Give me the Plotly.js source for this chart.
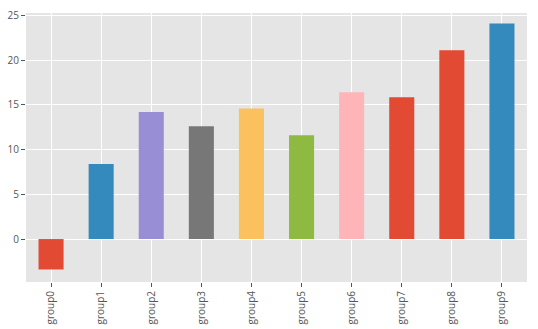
<!DOCTYPE html>
<html>
<head>
<meta charset="utf-8">
<script src="https://cdn.plot.ly/plotly-3.0.1.min.js"></script>
<style>html,body{margin:0;padding:0;background:#fff;}#chart{width:538px;height:329px;}</style>
</head>
<body>
<div id="chart"></div>
<script>
var categories = ["group0","group1","group2","group3","group4","group5","group6","group7","group8","group9"];
var values = [-3.4, 8.4, 14.2, 12.6, 14.6, 11.6, 16.4, 15.85, 21.1, 24.1];
var colors = ["#E24A33","#348ABD","#988ED5","#777777","#FBC15E","#8EBA42","#FFB5B8","#E24A33","#E24A33","#348ABD"];
var yTicks = [0, 5, 10, 15, 20, 25];

var trace = {
  type: "bar",
  x: categories,
  y: values,
  width: 0.5,
  marker: {color: colors, line: {width: 0}},
  hoverinfo: "none"
};
var layout = {
  width: 538, height: 329,
  margin: {l: 26, r: 11, t: 13, b: 47},
  paper_bgcolor: "#ffffff",
  plot_bgcolor: "#E5E5E5",
  showlegend: false,
  font: {family: "Open Sans, DejaVu Sans, sans-serif", size: 10, color: "#555555"},
  xaxis: {
    type: "category",
    range: [-0.5, 9.5],
    tickangle: -90,
    showgrid: true, gridcolor: "#ffffff", gridwidth: 1,
    ticks: "outside", ticklen: 4, tickcolor: "#555555", tickwidth: 1,
    zeroline: false, showline: false,
    tickfont: {size: 10, color: "#555555"}
  },
  yaxis: {
    range: [-4.8, 25.26],
    tickvals: yTicks,
    ticktext: yTicks.map(String),
    showgrid: true, gridcolor: "#ffffff", gridwidth: 1,
    zeroline: true, zerolinecolor: "#ffffff", zerolinewidth: 1,
    ticks: "outside", ticklen: 4, tickcolor: "#555555", tickwidth: 1,
    showline: false,
    tickfont: {size: 10, color: "#555555"}
  }
};
Plotly.newPlot("chart", [trace], layout, {displayModeBar: false, staticPlot: true});
</script>
</body>
</html>
